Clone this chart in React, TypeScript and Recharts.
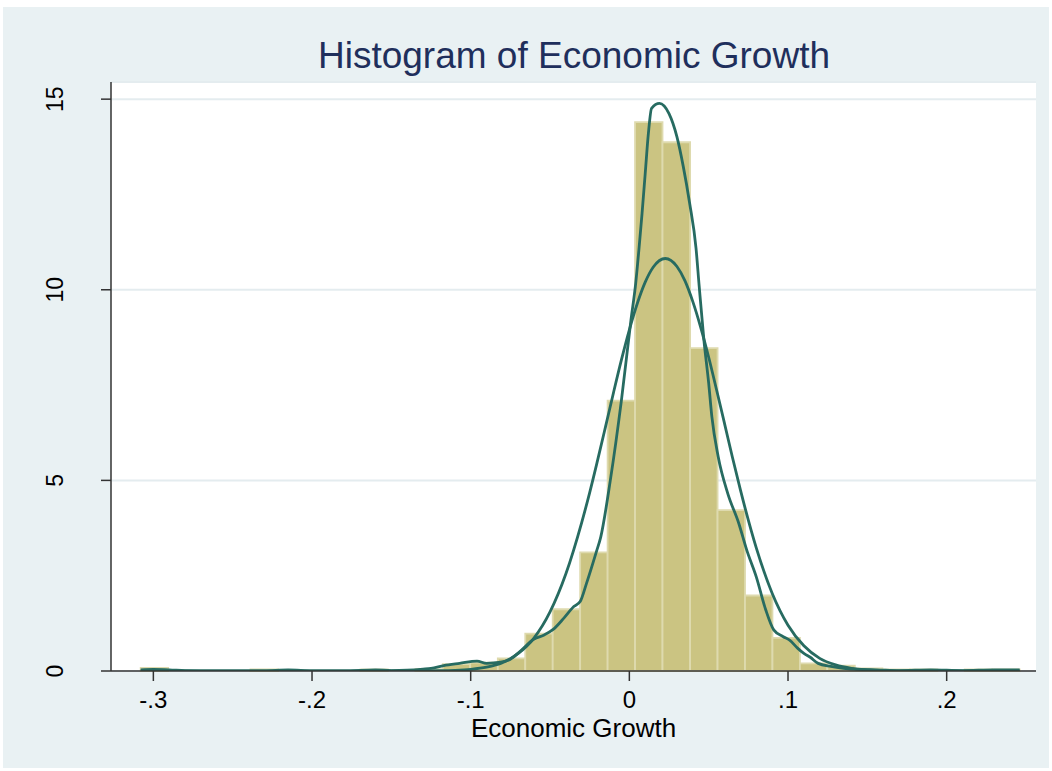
import React from "react";
import {
  ComposedChart,
  Line,
  XAxis,
  YAxis,
  CartesianGrid,
  ReferenceArea,
  Label,
} from "recharts";

// histogram bins: left/right edges and density heights
const BIN_EDGES = [
  -0.308, -0.2907, -0.2734, -0.2561, -0.2388, -0.2214, -0.2041, -0.1868,
  -0.1695, -0.1522, -0.1349, -0.1176, -0.1003, -0.0829, -0.0656, -0.0483,
  -0.031, -0.0137, 0.0036, 0.0209, 0.0383, 0.0556, 0.0729, 0.0902, 0.1075,
  0.1248, 0.1421, 0.1595, 0.1768, 0.1941, 0.2114, 0.2287, 0.246,
];
const BIN_DENSITY = [
  0.08, 0, 0, 0, 0.04, 0, 0, 0, 0.04, 0, 0.05, 0.18, 0.22, 0.33, 0.98, 1.62,
  3.11, 7.09, 14.4, 13.87, 8.47, 4.22, 1.98, 0.87, 0.2, 0.14, 0.07, 0.04,
  0.04, 0, 0.04, 0.04,
];

// kernel density estimate
const KDE_X = [
  -0.308, -0.3, -0.29, -0.28, -0.26, -0.23, -0.215, -0.2, -0.18, -0.16,
  -0.15, -0.14, -0.13, -0.125, -0.117, -0.107, -0.096, -0.09, -0.081, -0.075,
  -0.069, -0.06, -0.054, -0.048, -0.041, -0.035, -0.031, -0.027, -0.021,
  -0.018, -0.012, -0.005, 0.001, 0.004, 0.006, 0.008, 0.01, 0.012, 0.014,
  0.019, 0.025, 0.03, 0.034, 0.038, 0.042, 0.044, 0.047, 0.05, 0.052, 0.056,
  0.062, 0.069, 0.074, 0.08, 0.086, 0.091, 0.097, 0.101, 0.106, 0.11, 0.114,
  0.119, 0.127, 0.135, 0.145, 0.156, 0.17, 0.19, 0.21, 0.23, 0.246,
];
const KDE_Y = [
  0.03, 0.04, 0.03, 0.01, 0, 0.005, 0.03, 0.005, 0, 0.03, 0.01, 0.02, 0.05,
  0.07, 0.14, 0.2, 0.26, 0.2, 0.23, 0.31, 0.51, 0.84, 0.94, 1.09, 1.4, 1.69,
  1.82, 2.3, 3.1, 3.52, 5.0, 7.1, 9.2, 10.17, 11.04, 12.0, 13.05, 14.1, 14.76,
  14.89, 14.62, 14.01, 13.23, 12.27, 11.1, 10.1, 8.68, 7.55, 6.67, 5.62, 4.66,
  3.87, 3.17, 2.47, 1.6, 1.08, 0.9, 0.81, 0.6, 0.46, 0.36, 0.2, 0.12, 0.07,
  0.04, 0.03, 0.01, 0.03, 0.01, 0.03, 0.03,
];

// normal density overlay
const NORM_X = [
  -0.308, -0.15, -0.13, -0.12, -0.11, -0.1, -0.09, -0.08, -0.07, -0.06, -0.05,
  -0.04, -0.03, -0.025, -0.02, -0.015, -0.01, -0.005, 0, 0.005, 0.01, 0.015,
  0.0227, 0.03, 0.035, 0.04, 0.045, 0.05, 0.055, 0.06, 0.065, 0.07, 0.08,
  0.09, 0.1, 0.11, 0.12, 0.13, 0.14, 0.15, 0.16, 0.18, 0.246,
];
const NORM_Y = [
  0, 0, 0.002, 0.006, 0.017, 0.043, 0.1, 0.22, 0.46, 0.87, 1.55, 2.55, 3.9,
  4.68, 5.53, 6.41, 7.3, 8.16, 8.95, 9.64, 10.2, 10.59, 10.82, 10.61, 10.24,
  9.69, 9.01, 8.23, 7.37, 6.49, 5.6, 4.75, 3.23, 2.04, 1.2, 0.66, 0.33, 0.16,
  0.07, 0.03, 0.01, 0, 0,
];

const X_TICKS = [-0.3, -0.2, -0.1, 0, 0.1, 0.2];
const Y_TICKS = [0, 5, 10, 15];

const FONT = '"Liberation Sans", Arial, sans-serif';
const BG = "#E9F1F3";
const CURVE = "#276B61";

const kdePoints = KDE_X.map((x, i) => ({ x, y: KDE_Y[i] }));
const normPoints = NORM_X.map((x, i) => ({ x, y: NORM_Y[i] }));

const fmtX = (v: number) => (v === 0 ? "0" : v.toFixed(1).replace("0.", "."));

function XTick({ x, y, payload }: any) {
  return (
    <text
      x={x}
      y={y + 25}
      textAnchor="middle"
      fontSize={24}
      fontFamily={FONT}
      fill="#000"
    >
      {fmtX(payload.value)}
    </text>
  );
}

function YTick({ x, y, payload }: any) {
  const bx = x - 36;
  return (
    <text
      x={bx}
      y={y}
      transform={`rotate(-90, ${bx}, ${y})`}
      textAnchor="middle"
      fontSize={23}
      fontFamily={FONT}
      fill="#000"
    >
      {payload.value}
    </text>
  );
}

export default function App() {
  return (
    <div
      style={{
        position: "fixed",
        left: 0,
        top: 0,
        width: 1052,
        height: 771,
        background: "#fff",
      }}
    >
      <div
        style={{
          position: "absolute",
          left: 3,
          top: 7,
          width: 1046,
          height: 761,
          background: BG,
        }}
      />
      <svg
        width={1052}
        height={80}
        style={{ position: "absolute", left: 0, top: 0 }}
      >
        <text
          x={574}
          y={68}
          textAnchor="middle"
          fontSize={37}
          fontFamily={FONT}
          fill="#1F2F5C"
        >
          Histogram of Economic Growth
        </text>
      </svg>
      <div style={{ position: "absolute", left: 0, top: 0 }}>
        <ComposedChart
          width={1052}
          height={771}
          margin={{ top: 82, right: 16, bottom: 30, left: 51 }}
        >
          <CartesianGrid
            vertical={false}
            fill="#ffffff"
            stroke="#E4ECEF"
            strokeWidth={2}
          />
          <XAxis
            type="number"
            dataKey="x"
            domain={[-0.3267, 0.2563]}
            ticks={X_TICKS}
            allowDataOverflow
            height={70}
            tickSize={10}
            tick={<XTick />}
            axisLine={{ stroke: "#333", strokeWidth: 1.5 }}
            tickLine={{ stroke: "#333", strokeWidth: 1.5 }}
          >
            <Label
              value="Economic Growth"
              position="insideBottom"
              offset={4}
              fontSize={26}
              fontFamily={FONT}
              fill="#000"
            />
          </XAxis>
          <YAxis
            type="number"
            domain={[0, 15.45]}
            ticks={Y_TICKS}
            allowDataOverflow
            width={60}
            tickSize={10}
            tick={<YTick />}
            axisLine={{ stroke: "#333", strokeWidth: 1.5 }}
            tickLine={{ stroke: "#333", strokeWidth: 1.5 }}
          />
          {BIN_DENSITY.map((d, i) =>
            d > 0 ? (
              <ReferenceArea
                key={i}
                x1={BIN_EDGES[i]}
                x2={BIN_EDGES[i + 1]}
                y1={0}
                y2={d}
                fill="#CBC482"
                fillOpacity={1}
                stroke="#DEDAAE"
                strokeWidth={1.8}
              />
            ) : null
          )}
          <Line
            data={normPoints}
            dataKey="y"
            type="monotone"
            stroke={CURVE}
            strokeWidth={2.8}
            dot={false}
            isAnimationActive={false}
          />
          <Line
            data={kdePoints}
            dataKey="y"
            type="monotone"
            stroke={CURVE}
            strokeWidth={2.8}
            dot={false}
            isAnimationActive={false}
          />
        </ComposedChart>
      </div>
    </div>
  );
}
